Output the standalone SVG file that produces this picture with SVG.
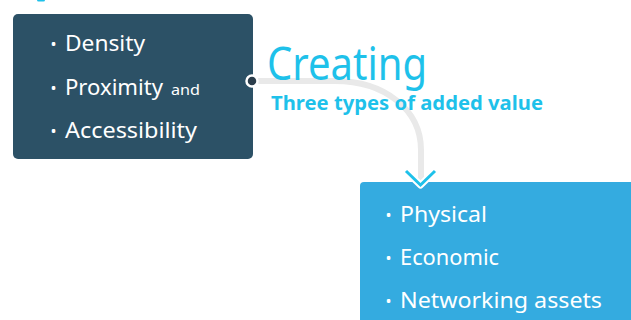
<svg xmlns="http://www.w3.org/2000/svg" width="631" height="320" viewBox="0 0 631 320">
  <style>
    .item { font-family: "Noto Sans", "Open Sans", sans-serif; font-size: 22px; fill: #ffffff; }
    .small { font-size: 15px; }
    .bullet { font-family: "Noto Sans", sans-serif; font-size: 16px; fill: #ffffff; }
    .title { font-family: "Noto Sans", "Open Sans", sans-serif; fill: #1ec1ea; }
  </style>

  <rect width="631" height="320" fill="#ffffff"/>
  <!-- sliver at top edge -->
  <rect x="37" y="-2" width="8" height="3.5" rx="1.5" fill="#1ec1ea"/>

  <g id="factors">
    <rect x="13" y="14" width="240" height="145" rx="5" fill="#2c5166"/>
    <text class="bullet" x="50.5" y="50">•</text>
    <text class="item" x="65" y="51" textLength="80" lengthAdjust="spacingAndGlyphs">Density</text>
    <text class="bullet" x="50.5" y="94">•</text>
    <text class="item" x="65" y="95"><tspan textLength="98" lengthAdjust="spacingAndGlyphs">Proximity</tspan></text>
    <text class="item small" x="171" y="95" textLength="29" lengthAdjust="spacingAndGlyphs">and</text>
    <text class="bullet" x="50.5" y="137">•</text>
    <text class="item" x="65" y="138" textLength="132" lengthAdjust="spacingAndGlyphs">Accessibility</text>
  </g>

  <!-- connector sits beneath the heading text -->
  <g id="connectors">
    <path d="M252,81 H335 C385,81 421,110 421,150 V180" fill="none" stroke="#e9e9e9" stroke-width="6"/>
    <circle cx="252" cy="81" r="5.5" fill="#2c3e4c" stroke="#ffffff" stroke-width="2.5"/>
  </g>

  <g id="heading">
    <text class="title" x="267" y="80" font-size="45" textLength="160" lengthAdjust="spacingAndGlyphs">Creating</text>
    <text class="title" x="271" y="110" font-size="19" font-weight="bold" textLength="272" lengthAdjust="spacingAndGlyphs">Three types of added value</text>
  </g>

  <g id="added-value">
    <rect x="360" y="182" width="275" height="150" rx="4" fill="#34abe0"/>
    <text class="bullet" x="385.5" y="221">•</text>
    <text class="item" x="400" y="222" textLength="87" lengthAdjust="spacingAndGlyphs">Physical</text>
    <text class="bullet" x="385.5" y="264">•</text>
    <text class="item" x="400" y="265" textLength="99" lengthAdjust="spacingAndGlyphs">Economic</text>
    <text class="bullet" x="385.5" y="307">•</text>
    <text class="item" x="400" y="308" textLength="202" lengthAdjust="spacingAndGlyphs">Networking assets</text>
  </g>

  <g id="arrowhead">
    <polyline points="406,171 420.5,185 435,171" fill="none" stroke="#ffffff" stroke-width="7" stroke-linecap="round" stroke-linejoin="round"/>
    <polyline points="406,171 420.5,185 435,171" fill="none" stroke="#1ec1ea" stroke-width="3" stroke-linejoin="miter"/>
  </g>
</svg>
